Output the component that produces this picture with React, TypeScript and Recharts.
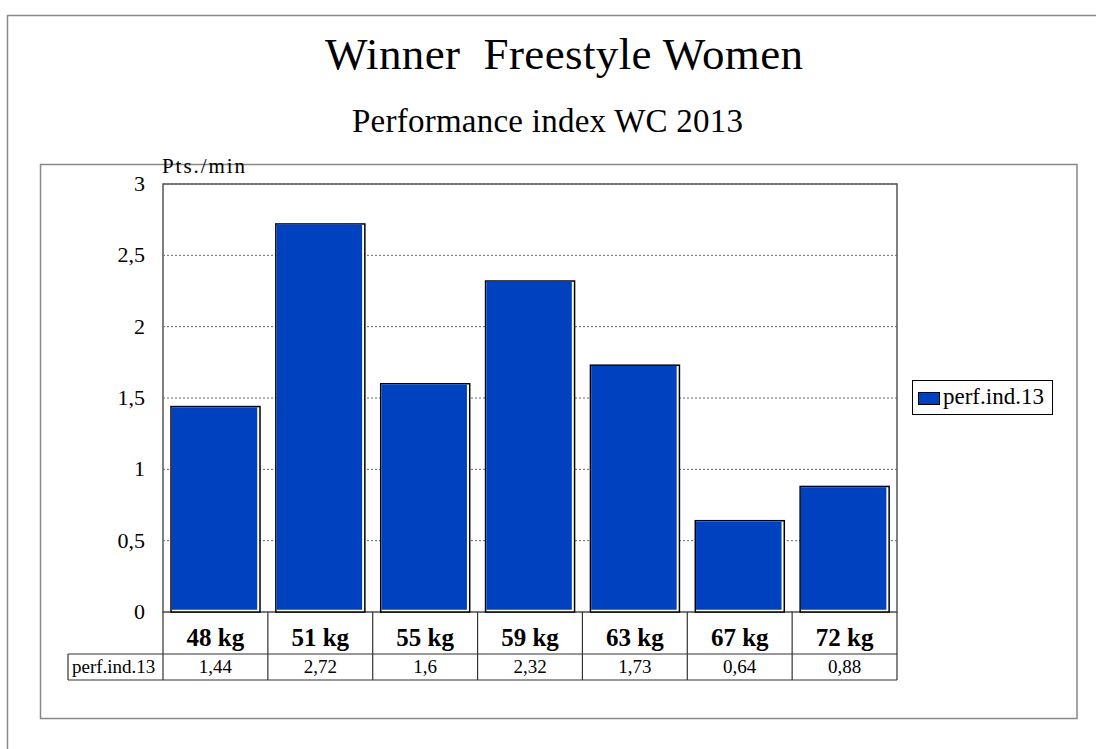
import React from 'react';
import { BarChart, Bar, XAxis, YAxis, CartesianGrid, Legend } from 'recharts';

const categories = ['48 kg', '51 kg', '55 kg', '59 kg', '63 kg', '67 kg', '72 kg'];
const perfInd13 = [1.44, 2.72, 1.6, 2.32, 1.73, 0.64, 0.88];
const yTicks = [0, 0.5, 1, 1.5, 2, 2.5, 3];
const seriesName = 'perf.ind.13';

const data = categories.map((name, i) => ({ name, value: perfInd13[i] }));

const FONT = 'Liberation Serif';
const BLUE = '#0041c0';
const PLOT_LEFT = 163;
const PLOT_RIGHT = 897;
const PLOT_TOP = 184;
const PLOT_BOTTOM = 612;
const BAND = (PLOT_RIGHT - PLOT_LEFT) / categories.length;
const ROW1_BOTTOM = 654;
const ROW2_BOTTOM = 680;

const fmt = (v: number) => String(v).replace('.', ',');

const BarShape = (props: any) => {
  const { x, y, width, height } = props;
  if (!height || height <= 0) return null;
  return (
    <g>
      <rect x={x} y={y} width={width} height={height} fill="#fff" stroke="#000" strokeWidth={1.5} />
      <rect x={x + 0.75} y={y + 0.75} width={width - 3.5} height={height - 3} fill={BLUE} />
    </g>
  );
};

const YTick = (props: any) => (
  <text x={props.x} y={props.y} dy={7} textAnchor="end" fontSize={22} style={{ fontFamily: FONT }} fill="#000">
    {fmt(props.payload.value)}
  </text>
);

const XTick = (props: any) => {
  const { x, index, payload } = props;
  const right = x + BAND / 2;
  return (
    <g>
      {index === 0 && (
        <g>
          <line x1={x - BAND / 2} y1={PLOT_BOTTOM} x2={x - BAND / 2} y2={ROW2_BOTTOM} stroke="#333" strokeWidth={1.2} />
          <line x1={68} y1={ROW1_BOTTOM} x2={PLOT_RIGHT} y2={ROW1_BOTTOM} stroke="#333" strokeWidth={1.2} />
          <line x1={68} y1={ROW2_BOTTOM} x2={PLOT_RIGHT} y2={ROW2_BOTTOM} stroke="#333" strokeWidth={1.2} />
          <line x1={68} y1={ROW1_BOTTOM} x2={68} y2={ROW2_BOTTOM} stroke="#333" strokeWidth={1.2} />
          <text x={72} y={673} fontSize={19} style={{ fontFamily: FONT }} fill="#000">
            {seriesName}
          </text>
        </g>
      )}
      <line x1={right} y1={PLOT_BOTTOM} x2={right} y2={ROW2_BOTTOM} stroke="#333" strokeWidth={1.2} />
      <text x={x} y={646} textAnchor="middle" fontSize={25} fontWeight="bold" style={{ fontFamily: FONT }} fill="#000">
        {payload.value}
      </text>
      <text x={x} y={673} textAnchor="middle" fontSize={19} style={{ fontFamily: FONT }} fill="#000">
        {fmt(perfInd13[index])}
      </text>
    </g>
  );
};

const LegendBox = (props: any) => {
  const item = (props.payload || [])[0];
  return (
    <div
      style={{
        width: 139,
        height: 33,
        border: '1px solid #000',
        background: '#fff',
        position: 'relative',
        fontFamily: FONT,
        fontSize: 23,
        boxSizing: 'content-box',
      }}
    >
      <div
        style={{
          position: 'absolute',
          left: 5,
          top: 11,
          width: 20,
          height: 11,
          background: BLUE,
          border: '1px solid #000',
        }}
      />
      <span style={{ position: 'absolute', left: 30, top: 2, lineHeight: '28px', whiteSpace: 'nowrap', fontFamily: FONT }}>
        {item ? item.value : seriesName}
      </span>
    </div>
  );
};

export default function App() {
  return (
    <div style={{ position: 'absolute', left: 0, top: 0, width: 1096, height: 749, background: '#fff', overflow: 'hidden', fontFamily: FONT }}>
      <svg width={1096} height={749} style={{ position: 'absolute', left: 0, top: 0 }}>
        <rect x={7.5} y={15.5} width={1200} height={1000} fill="#fff" stroke="#888" strokeWidth={1.5} />
        <rect x={40.5} y={164.5} width={1036.5} height={554} fill="#fff" stroke="#888" strokeWidth={1.5} />
        <rect
          x={PLOT_LEFT}
          y={PLOT_TOP}
          width={PLOT_RIGHT - PLOT_LEFT}
          height={PLOT_BOTTOM - PLOT_TOP}
          fill="#fff"
          stroke="#555"
          strokeWidth={1.5}
        />
        <text x={325} y={69} fontSize={45} style={{ fontFamily: FONT, whiteSpace: 'pre' }} fill="#000" textLength={478}>
          {'Winner\u00a0 Freestyle Women'}
        </text>
        <text x={352} y={132} fontSize={33} style={{ fontFamily: FONT }} fill="#000" textLength={391}>
          Performance index WC 2013
        </text>
      </svg>
      <div style={{ position: 'absolute', left: 0, top: 0 }}>
        <BarChart width={1096} height={749} data={data} margin={{ top: 184, right: 199, bottom: 69, left: 40 }}>
          <CartesianGrid vertical={false} stroke="#666" strokeDasharray="2 2" />
          <XAxis
            dataKey="name"
            height={68}
            axisLine={false}
            tickLine={false}
            interval={0}
            tick={<XTick />}
          />
          <YAxis
            width={123}
            domain={[0, 3]}
            ticks={yTicks}
            axisLine={false}
            tickLine={false}
            tickSize={0}
            tickMargin={18}
            tick={<YTick />}
            interval={0}
          />
          <Legend
            layout="vertical"
            align="center"
            verticalAlign="middle"
            wrapperStyle={{ left: 912, top: 380, width: 141, height: 35 }}
            content={<LegendBox />}
          />
          <Bar dataKey="value" name={seriesName} fill={BLUE} barSize={89} shape={<BarShape />} isAnimationActive={false} />
        </BarChart>
      </div>
      <svg width={1096} height={749} style={{ position: 'absolute', left: 0, top: 0, pointerEvents: 'none' }}>
        <text x={162} y={173} fontSize={21} style={{ fontFamily: FONT }} fill="#000" textLength={83}>
          Pts./min
        </text>
      </svg>
    </div>
  );
}
